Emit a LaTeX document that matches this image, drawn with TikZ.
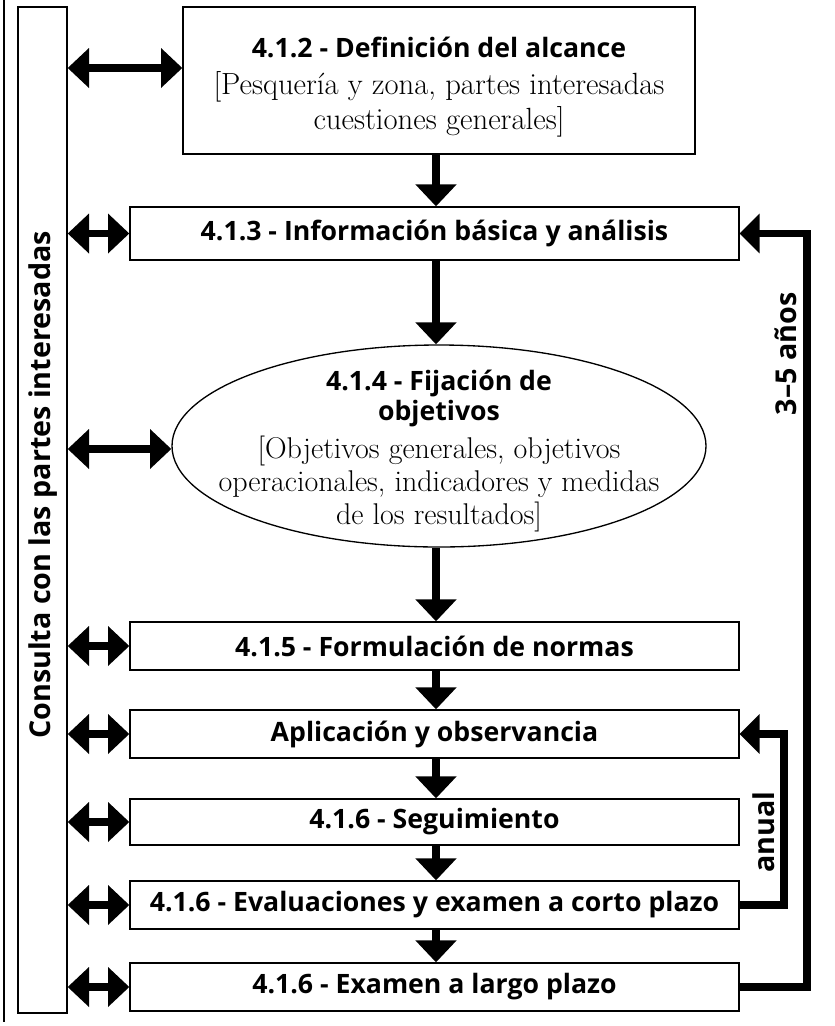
\documentclass[tikz,border=0pt]{standalone}
\usepackage{fontspec}
\setsansfont{Open Sans}
\usetikzlibrary{arrows.meta,shapes.geometric,calc}
\tikzset{
  bx/.style={draw, line width=1pt, inner sep=0pt, fill=white},
  ttl/.style={font=\sffamily\bfseries\fontsize{20}{22.5}\selectfont},
  sub/.style={font=\fontsize{23}{26}\selectfont},
  arr/.style={line width=6pt, -{Triangle[length=16.5pt,width=30pt]}},
  darr/.style={line width=5.5pt, {Triangle[length=16pt,width=29pt]}-{Triangle[length=16pt,width=29pt]}},
  loop/.style={line width=5.6pt, miter limit=10, -{Triangle[length=15pt,width=29pt]}},
  lbl/.style={font=\sffamily\bfseries\fontsize{21.5}{24}\selectfont, rotate=90}
}
\begin{document}
\begin{tikzpicture}[x=0.75pt,y=-0.75pt]
\useasboundingbox (0,0) rectangle (835,1026);
% outer left rule
\coordinate (rt) at (4,0);
\coordinate (rb) at (4,1022);
\draw[line width=0.9pt] (rt) -- (rb);
% consultation column
\node[bx, minimum width=36.75pt, minimum height=754.5pt] (L) at (42.5,510) {};
\node[lbl] (Ltxt) at (43,485) {Consulta con las partes interesadas};
% boxes
\node[bx, minimum width=384pt, minimum height=110.25pt] (b412) at (439,80.5) {};
\node[ttl] (t412) at (439,47) {4.1.2 - Definición del alcance};
\node[sub, align=center] (s412) at (439,104) {[Pesquería y zona, partes interesadas\\cuestiones generales]};
\node[bx, ttl, minimum width=456.75pt, minimum height=39.75pt] (b413) at (434.5,233.5) {4.1.3 - Información básica y análisis};
\node[draw, ellipse, line width=1pt, inner sep=0pt, minimum width=400.5pt, minimum height=151.5pt] (ell) at (439,446) {};
\node[ttl, align=center] (tell) at (439,398) {4.1.4 - Fijación de\\objetivos};
\node[sub, align=center, font=\fontsize{22.5}{25}\selectfont] (sell) at (439,484) {[Objetivos generales, objetivos\\operacionales, indicadores y medidas\\de los resultados]};
\node[bx, ttl, minimum width=456.75pt, minimum height=36pt] (b415) at (434.5,646) {4.1.5 - Formulación de normas};
\node[bx, ttl, minimum width=456.75pt, minimum height=36pt] (bapl) at (434.5,734) {Aplicación y observancia};
\node[bx, ttl, minimum width=456.75pt, minimum height=34.5pt] (bseg) at (434.5,822) {4.1.6 - Seguimiento};
\node[bx, ttl, minimum width=456.75pt, minimum height=36pt] (beval) at (434.5,905) {4.1.6 - Evaluaciones y examen a corto plazo};
\node[bx, ttl, minimum width=456.75pt, minimum height=36pt] (bexam) at (434.5,987) {4.1.6 - Examen a largo plazo};
% vertical flow arrows
\coordinate (ax) at (436,0);
\draw[arr] (b412.south -| ax) -- (b413.north -| ax);
\draw[arr] (b413.south -| ax) -- (ell.north -| ax);
\draw[arr] (ell.south -| ax) -- (b415.north -| ax);
\draw[arr] (b415.south -| ax) -- (bapl.north -| ax);
\draw[arr] (bapl.south -| ax) -- (bseg.north -| ax);
\draw[arr] (bseg.south -| ax) -- (beval.north -| ax);
\draw[arr] (beval.south -| ax) -- (bexam.north -| ax);
% consultation double arrows
\coordinate (c412) at (0,68);
\draw[darr] (L.east |- c412) -- (b412.west |- c412);
\draw[darr] (L.east |- b413) -- (b413.west);
\coordinate (cell) at (0,449);
\draw[darr] (L.east |- cell) -- (ell.west |- cell);
\draw[darr] (L.east |- b415) -- (b415.west);
\draw[darr] (L.east |- bapl) -- (bapl.west);
\draw[darr] (L.east |- bseg) -- (bseg.west);
\draw[darr] (L.east |- beval) -- (beval.west);
\draw[darr] (L.east |- bexam) -- (bexam.west);
% feedback loops
\coordinate (lx) at (807,0);
\coordinate (anx) at (784,0);
\draw[loop] (bexam.east) -- (bexam.east -| lx) |- (b413.east);
\draw[loop] (beval.east) -- (beval.east -| anx) |- (bapl.east);
\node[lbl] (l35) at (786,354) {3–5 años};
\node[lbl] (lan) at (764,832) {anual};
\end{tikzpicture}
\end{document}
